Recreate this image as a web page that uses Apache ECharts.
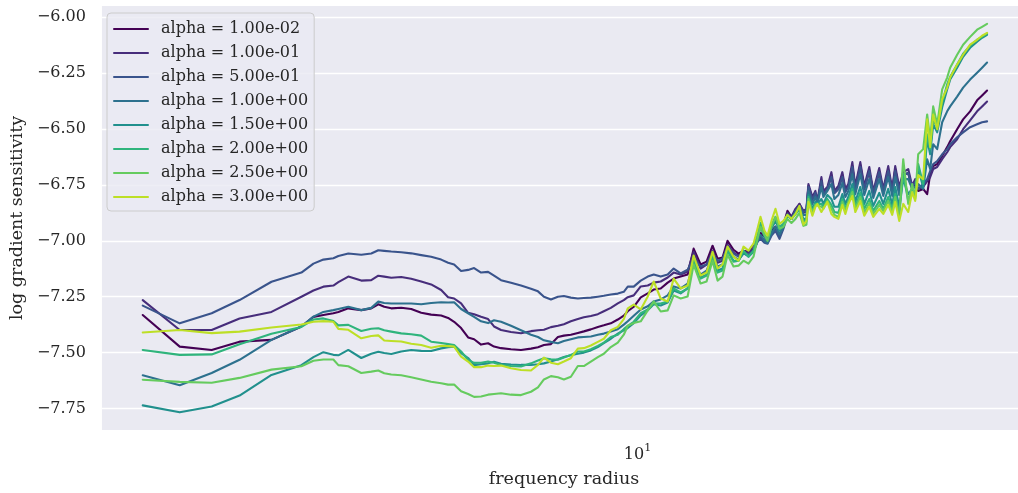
<!DOCTYPE html>
<html><head><meta charset="utf-8">
<script src="https://cdn.jsdelivr.net/npm/echarts@6/dist/echarts.min.js"></script>
<style>html,body{margin:0;padding:0;background:#fff}#c{width:1018px;height:493px}</style>
</head><body><div id="c"></div>
<script>
const radius = [1.222,1.430,1.638,1.844,2.112,2.398,2.524,2.633,2.747,2.806,2.927,3.093,3.227,3.325,3.410,3.513,3.665,3.824,3.990,4.162,4.343,4.473,4.589,4.727,4.870,4.995,5.145,5.301,5.437,
5.601,5.843,6.097,6.361,6.553,6.721,6.924,7.132,7.316,7.536,7.763,7.964,8.204,8.451,8.669,8.930,9.199,9.436,9.597,9.844,
10.141,10.447,10.716,11.039,11.371,11.664,12.015,12.377,12.696,13.078,13.415,13.760,14.055,14.356,14.664,15.041,15.364,15.693,16.029,16.375,16.655,16.868,17.157,17.377,17.674,17.977,18.285,18.598,18.916,19.240,19.569,19.904,20.245,20.504,
20.678,21.032,21.301,21.482,21.850,22.036,22.413,22.797,23.089,23.484,23.886,24.192,24.501,24.921,25.237,25.778,26.219,26.781,27.239,27.940,28.418,29.027,29.524,29.902,30.414,30.936,31.599,32.137,32.548,32.966,33.672,
34.249,34.687,35.136,35.738,36.504,37.286,37.762,38.899,39.902,41.105,42.343,43.250,44.177];

const alpha_1e_02 = [-7.332,-7.473,-7.488,-7.451,-7.443,-7.383,-7.340,-7.332,-7.324,-7.318,-7.302,-7.310,-7.302,-7.284,-7.295,-7.302,-7.299,-7.305,-7.322,-7.330,-7.334,-7.345,-7.362,-7.390,-7.432,-7.440,-7.464,-7.458,-7.473,
-7.480,-7.485,-7.488,-7.482,-7.476,-7.466,-7.462,-7.430,-7.424,-7.420,-7.412,-7.405,-7.396,-7.385,-7.378,-7.369,-7.352,-7.335,-7.315,-7.295,
-7.253,-7.235,-7.218,-7.213,-7.187,-7.169,-7.160,-7.151,-7.035,-7.106,-7.093,-7.022,-7.080,-7.075,-7.000,-7.040,-7.057,-7.044,-7.049,-7.017,-6.982,-6.964,-6.982,-7.000,-6.955,-6.937,-6.973,-6.928,-6.866,-6.893,-6.866,-6.835,-6.875,-6.866,
-6.755,-6.813,-6.791,-6.831,-6.733,-6.791,-6.768,-6.706,-6.786,-6.768,-6.706,-6.777,-6.759,-6.666,-6.768,-6.661,-6.768,-6.688,-6.786,-6.693,-6.777,-6.684,-6.777,-6.679,-6.773,-6.706,-6.697,-6.768,-6.742,-6.777,-6.768,
-6.791,-6.702,-6.666,-6.657,-6.621,-6.581,-6.555,-6.501,-6.457,-6.421,-6.372,-6.350,-6.328];

const alpha_1e_01 = [-7.265,-7.399,-7.399,-7.347,-7.318,-7.250,-7.222,-7.205,-7.200,-7.185,-7.160,-7.178,-7.176,-7.156,-7.160,-7.165,-7.162,-7.170,-7.182,-7.195,-7.220,-7.252,-7.258,-7.280,-7.322,-7.328,-7.340,-7.350,-7.383,
-7.399,-7.408,-7.413,-7.404,-7.400,-7.398,-7.386,-7.380,-7.373,-7.360,-7.350,-7.342,-7.336,-7.328,-7.315,-7.300,-7.280,-7.265,-7.252,-7.244,
-7.204,-7.200,-7.187,-7.182,-7.164,-7.142,-7.151,-7.138,-7.049,-7.124,-7.106,-7.044,-7.098,-7.089,-7.017,-7.053,-7.066,-7.049,-7.053,-7.035,-6.995,-6.982,-7.000,-7.009,-6.968,-6.946,-6.982,-6.937,-6.875,-6.893,-6.857,-6.835,-6.866,-6.857,
-6.746,-6.804,-6.777,-6.822,-6.715,-6.777,-6.759,-6.693,-6.777,-6.755,-6.693,-6.768,-6.746,-6.648,-6.755,-6.648,-6.755,-6.670,-6.777,-6.675,-6.768,-6.666,-6.768,-6.666,-6.759,-6.693,-6.679,-6.755,-6.724,-6.768,-6.759,
-6.733,-6.715,-6.679,-6.670,-6.635,-6.604,-6.581,-6.546,-6.501,-6.461,-6.421,-6.399,-6.377];

const alpha_5e_01 = [-7.290,-7.369,-7.324,-7.265,-7.183,-7.142,-7.102,-7.084,-7.078,-7.068,-7.057,-7.062,-7.057,-7.042,-7.045,-7.048,-7.051,-7.056,-7.064,-7.071,-7.084,-7.098,-7.106,-7.135,-7.130,-7.122,-7.142,-7.139,-7.156,
-7.176,-7.188,-7.200,-7.214,-7.226,-7.250,-7.262,-7.250,-7.247,-7.254,-7.258,-7.256,-7.254,-7.250,-7.246,-7.240,-7.236,-7.228,-7.205,-7.205,
-7.178,-7.160,-7.151,-7.160,-7.151,-7.124,-7.146,-7.129,-7.080,-7.115,-7.106,-7.057,-7.089,-7.080,-7.026,-7.057,-7.071,-7.053,-7.062,-7.044,-7.004,-6.991,-7.009,-7.013,-6.977,-6.955,-6.991,-6.946,-6.884,-6.902,-6.866,-6.844,-6.871,-6.866,
-6.759,-6.817,-6.786,-6.826,-6.733,-6.791,-6.768,-6.715,-6.786,-6.768,-6.715,-6.782,-6.759,-6.670,-6.768,-6.670,-6.768,-6.688,-6.786,-6.693,-6.777,-6.688,-6.777,-6.688,-6.773,-6.706,-6.697,-6.764,-6.737,-6.768,-6.746,
-6.724,-6.688,-6.657,-6.644,-6.613,-6.590,-6.568,-6.537,-6.515,-6.492,-6.479,-6.470,-6.466];

const alpha_1e_00 = [-7.601,-7.646,-7.591,-7.532,-7.443,-7.383,-7.339,-7.318,-7.310,-7.305,-7.295,-7.310,-7.300,-7.272,-7.278,-7.280,-7.280,-7.280,-7.284,-7.278,-7.275,-7.276,-7.275,-7.305,-7.324,-7.340,-7.360,-7.368,-7.355,
-7.362,-7.380,-7.400,-7.420,-7.430,-7.445,-7.452,-7.458,-7.448,-7.440,-7.432,-7.430,-7.428,-7.420,-7.415,-7.405,-7.395,-7.375,-7.360,-7.335,
-7.307,-7.293,-7.271,-7.262,-7.244,-7.204,-7.213,-7.191,-7.102,-7.151,-7.133,-7.066,-7.115,-7.106,-7.035,-7.071,-7.084,-7.057,-7.066,-7.049,-7.004,-6.973,-7.000,-7.009,-6.968,-6.937,-6.973,-6.937,-6.884,-6.902,-6.875,-6.853,-6.884,-6.884,
-6.777,-6.835,-6.804,-6.831,-6.759,-6.804,-6.777,-6.746,-6.813,-6.795,-6.742,-6.804,-6.777,-6.702,-6.791,-6.702,-6.795,-6.724,-6.808,-6.724,-6.799,-6.715,-6.799,-6.715,-6.795,-6.724,-6.724,-6.768,-6.759,-6.746,-6.768,
-6.635,-6.679,-6.568,-6.590,-6.470,-6.421,-6.399,-6.355,-6.315,-6.279,-6.248,-6.226,-6.203];

const alpha_15e_01 = [-7.736,-7.767,-7.741,-7.692,-7.600,-7.556,-7.520,-7.498,-7.510,-7.512,-7.488,-7.524,-7.505,-7.496,-7.502,-7.506,-7.495,-7.488,-7.492,-7.493,-7.481,-7.476,-7.473,-7.502,-7.524,-7.556,-7.552,-7.548,-7.541,
-7.550,-7.553,-7.555,-7.555,-7.552,-7.548,-7.540,-7.530,-7.520,-7.512,-7.505,-7.500,-7.490,-7.475,-7.458,-7.438,-7.415,-7.400,-7.390,-7.368,
-7.333,-7.311,-7.284,-7.289,-7.276,-7.222,-7.235,-7.213,-7.089,-7.164,-7.151,-7.071,-7.133,-7.124,-7.044,-7.089,-7.089,-7.053,-7.071,-7.049,-6.991,-6.937,-6.982,-7.000,-6.946,-6.911,-6.955,-6.928,-6.884,-6.902,-6.880,-6.857,-6.902,-6.902,
-6.795,-6.857,-6.826,-6.835,-6.813,-6.835,-6.795,-6.813,-6.848,-6.848,-6.791,-6.835,-6.804,-6.746,-6.826,-6.759,-6.835,-6.777,-6.844,-6.786,-6.835,-6.768,-6.839,-6.759,-6.848,-6.724,-6.791,-6.768,-6.791,-6.679,-6.759,
-6.546,-6.613,-6.479,-6.515,-6.403,-6.323,-6.279,-6.226,-6.177,-6.137,-6.110,-6.092,-6.079];

const alpha_2e_00 = [-7.488,-7.510,-7.508,-7.463,-7.416,-7.385,-7.352,-7.347,-7.359,-7.378,-7.376,-7.403,-7.393,-7.391,-7.400,-7.406,-7.414,-7.418,-7.424,-7.451,-7.457,-7.462,-7.466,-7.495,-7.533,-7.546,-7.545,-7.540,-7.545,
-7.555,-7.560,-7.562,-7.548,-7.535,-7.525,-7.530,-7.532,-7.522,-7.510,-7.495,-7.495,-7.485,-7.470,-7.455,-7.430,-7.420,-7.395,-7.380,-7.362,
-7.324,-7.307,-7.280,-7.280,-7.271,-7.213,-7.231,-7.213,-7.089,-7.169,-7.155,-7.071,-7.142,-7.133,-7.044,-7.093,-7.089,-7.044,-7.071,-7.044,-6.973,-6.920,-6.973,-6.991,-6.928,-6.893,-6.937,-6.924,-6.884,-6.902,-6.880,-6.857,-6.911,-6.911,
-6.804,-6.871,-6.835,-6.839,-6.835,-6.848,-6.813,-6.839,-6.871,-6.875,-6.813,-6.857,-6.822,-6.768,-6.848,-6.786,-6.857,-6.813,-6.866,-6.822,-6.857,-6.804,-6.862,-6.791,-6.880,-6.702,-6.822,-6.768,-6.804,-6.657,-6.746,
-6.524,-6.590,-6.457,-6.492,-6.381,-6.301,-6.266,-6.212,-6.163,-6.128,-6.101,-6.088,-6.074];

const alpha_25e_01 = [-7.621,-7.631,-7.635,-7.613,-7.576,-7.561,-7.536,-7.531,-7.531,-7.556,-7.561,-7.591,-7.585,-7.580,-7.592,-7.598,-7.601,-7.610,-7.620,-7.630,-7.637,-7.643,-7.643,-7.673,-7.685,-7.698,-7.696,-7.688,-7.685,
-7.682,-7.688,-7.690,-7.675,-7.655,-7.620,-7.605,-7.610,-7.620,-7.608,-7.560,-7.560,-7.540,-7.520,-7.505,-7.475,-7.455,-7.420,-7.380,-7.368,
-7.360,-7.311,-7.271,-7.316,-7.311,-7.244,-7.258,-7.249,-7.106,-7.191,-7.182,-7.089,-7.178,-7.160,-7.062,-7.115,-7.111,-7.089,-7.102,-7.071,-6.991,-6.937,-6.973,-7.000,-6.937,-6.893,-6.946,-6.937,-6.902,-6.920,-6.902,-6.875,-6.933,-6.928,
-6.813,-6.875,-6.839,-6.831,-6.848,-6.857,-6.822,-6.857,-6.884,-6.893,-6.826,-6.866,-6.826,-6.782,-6.857,-6.804,-6.875,-6.831,-6.880,-6.839,-6.866,-6.822,-6.871,-6.804,-6.893,-6.635,-6.835,-6.746,-6.813,-6.613,-6.590,
-6.435,-6.546,-6.399,-6.479,-6.323,-6.270,-6.226,-6.168,-6.123,-6.088,-6.056,-6.043,-6.030];

const alpha_3e_00 = [-7.410,-7.399,-7.413,-7.406,-7.388,-7.374,-7.362,-7.359,-7.362,-7.394,-7.398,-7.436,-7.426,-7.423,-7.446,-7.448,-7.450,-7.460,-7.466,-7.478,-7.469,-7.471,-7.473,-7.518,-7.540,-7.565,-7.565,-7.558,-7.560,
-7.558,-7.570,-7.578,-7.580,-7.555,-7.522,-7.545,-7.552,-7.540,-7.525,-7.482,-7.480,-7.468,-7.452,-7.438,-7.400,-7.385,-7.350,-7.302,-7.285,
-7.307,-7.249,-7.182,-7.258,-7.271,-7.169,-7.213,-7.200,-7.066,-7.155,-7.142,-7.049,-7.124,-7.106,-7.026,-7.071,-7.089,-7.026,-7.044,-7.013,-6.946,-6.893,-6.955,-6.977,-6.911,-6.857,-6.924,-6.911,-6.884,-6.902,-6.880,-6.844,-6.928,-6.911,
-6.826,-6.888,-6.848,-6.835,-6.871,-6.866,-6.826,-6.880,-6.893,-6.902,-6.839,-6.880,-6.835,-6.799,-6.871,-6.822,-6.888,-6.848,-6.893,-6.857,-6.880,-6.839,-6.884,-6.826,-6.911,-6.835,-6.871,-6.782,-6.822,-6.706,-6.724,
-6.457,-6.581,-6.435,-6.501,-6.368,-6.315,-6.270,-6.212,-6.168,-6.123,-6.101,-6.083,-6.070];

const seriesNames = ['alpha = 1.00e-02','alpha = 1.00e-01','alpha = 5.00e-01','alpha = 1.00e+00','alpha = 1.50e+00','alpha = 2.00e+00','alpha = 2.50e+00','alpha = 3.00e+00'];
const seriesValues = [alpha_1e_02, alpha_1e_01, alpha_5e_01, alpha_1e_00, alpha_15e_01, alpha_2e_00, alpha_25e_01, alpha_3e_00];
const colors = ['#440154','#472d7b','#3a548c','#2d718e','#21908d','#2fb47c','#65cb5e','#bddf26'];
const yTicks = [-7.75,-7.5,-7.25,-7.0,-6.75,-6.5,-6.25,-6.0];
const xTicks = [10];

const FONT = 'DejaVu Serif';
const TXT = '#262626';
const chart = echarts.init(document.getElementById('c'));
const series = seriesNames.map((name, k) => ({
  name: name,
  type: 'line',
  symbol: 'none',
  clip: true,
  z: 2 + k * 0.01,
  color: colors[k],
  lineStyle: { width: 2.1, color: colors[k], join: 'round', cap: 'round' },
  data: radius.slice(0, seriesValues[k].length).map((r, i) => [r, seriesValues[k][i]])
}));

chart.setOption({
  animation: false,
  grid: { left: 100, top: 6, right: 0, bottom: 60.7, show: true, backgroundColor: '#eaeaf2', borderWidth: 0 },
  xAxis: {
    type: 'log', logBase: 10, min: 1.0275, max: 50.38,
    name: 'frequency radius', nameLocation: 'middle', nameGap: 40,
    nameTextStyle: { fontFamily: FONT, fontSize: 17.5, color: TXT, padding: [0, 0, 0, 8] },
    axisLine: { show: false },
    axisTick: { show: false, customValues: xTicks },
    axisLabel: {
      customValues: xTicks, margin: 13,
      formatter: function (v) { return '{b|10}{s|1}'; },
      rich: {
        b: { fontFamily: FONT, fontSize: 16, color: TXT, lineHeight: 20, verticalAlign: 'bottom' },
        s: { fontFamily: FONT, fontSize: 11, color: TXT, lineHeight: 12, verticalAlign: 'top' }
      }
    },
    splitLine: { show: true, showMinLine: false, showMaxLine: false, lineStyle: { color: '#ffffff', width: 1.4 } }
  },
  yAxis: {
    type: 'value', min: -7.846, max: -5.950,
    name: 'log gradient sensitivity', nameLocation: 'middle', nameGap: 74,
    nameTextStyle: { fontFamily: FONT, fontSize: 17.5, color: TXT },
    axisLine: { show: false },
    axisTick: { show: false, customValues: yTicks },
    axisLabel: {
      customValues: yTicks, margin: 16, fontFamily: FONT, fontSize: 16, color: TXT,
      formatter: function (v) { return v.toFixed(2).replace('-', '\u2212'); }
    },
    splitLine: { show: true, lineStyle: { color: '#ffffff', width: 1.4 } }
  },
  legend: {
    orient: 'vertical', left: 107, top: 13,
    itemWidth: 34, itemHeight: 14, itemGap: 8,
    padding: [8, 6, 6, 6],
    itemStyle: { opacity: 0 },
    backgroundColor: 'rgba(234,234,242,0.8)', borderColor: '#cccccc', borderWidth: 1, borderRadius: 4,
    textStyle: { fontFamily: FONT, fontSize: 16, color: TXT, padding: [0, 0, 0, 8] },
    data: seriesNames
  },
  series: series
});
</script>
</body></html>
